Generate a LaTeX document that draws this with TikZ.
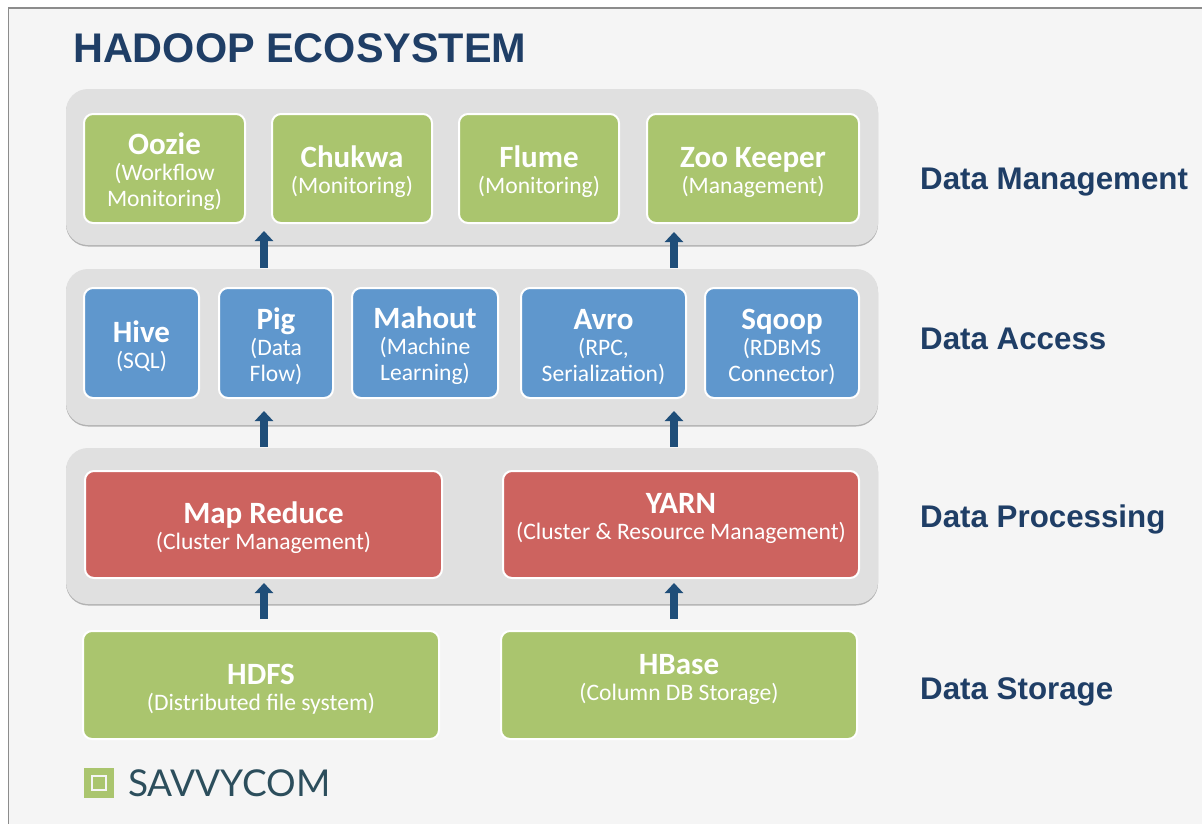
\documentclass[tikz,border=0pt]{standalone}
\usepackage{fontspec}
\setmainfont{Carlito}
\newfontfamily\labelfont{Liberation Sans}
\newfontfamily\logofont{Lato}
\usetikzlibrary{arrows.meta,shadows}
\definecolor{pagegray}{HTML}{F5F5F5}
\definecolor{panelgray}{HTML}{E0E0E0}
\definecolor{boxgreen}{HTML}{AAC56E}
\definecolor{boxblue}{HTML}{5F97CD}
\definecolor{boxred}{HTML}{CD635F}
\definecolor{titlenavy}{HTML}{1F3E66}
\definecolor{arrownavy}{HTML}{1F4E79}
\definecolor{logoteal}{HTML}{2C4E5C}
\newcommand{\boxhead}[1]{{\fontsize{31}{31}\selectfont\bfseries\rule{0pt}{28pt}#1}}
\newcommand{\boxlift}{\rule[-24pt]{0pt}{0pt}}
\tikzset{
	panel/.style={fill=panelgray, rounded corners=22pt, drop shadow={shadow xshift=0pt, shadow yshift=-1.5pt, fill=black!30, opacity=1}},
	tile/.style={draw=white, line width=2pt, rounded corners=9pt, text=white, align=center, inner sep=0pt, font=\fontsize{23.6}{26}\selectfont},
	greenbox/.style={tile, fill=boxgreen},
	bluebox/.style={tile, fill=boxblue},
	redbox/.style={tile, fill=boxred},
	layerlabel/.style={anchor=west, text=titlenavy, inner sep=0pt, font=\labelfont\fontsize{31.3}{31.3}\selectfont\bfseries},
	uparrow/.style={draw=arrownavy, line width=8pt, -{Triangle[width=18pt,length=10pt]}}
}
\begin{document}
\begin{tikzpicture}[x=1pt,y=-1pt]
			\useasboundingbox (0, 0) rectangle (1202, 823);
			
			%%%%% BACKGROUND %%%%%
			\fill[white] (0, 0) rectangle (1202, 823);
			\draw[fill=pagegray, draw=black!45, line width=1.5pt] (8.5, 8) rectangle (1230, 850);
			
			\node[anchor=west, inner sep=0pt, text=titlenavy, font=\labelfont\fontsize{41.4}{41.4}\selectfont\bfseries] (title) at (73, 48) {HADOOP ECOSYSTEM};
			
			%%%%% PANELS %%%%%
			\node[panel, minimum width=812pt, minimum height=156pt] (managepanel) at (472, 167) {};
			\node[panel, minimum width=812pt, minimum height=156pt] (accesspanel) at (472, 347) {};
			\node[panel, minimum width=812pt, minimum height=156pt] (processpanel) at (472, 526) {};
			
			%%%%% DATA MANAGEMENT %%%%%
			\node[greenbox, minimum width=161pt, minimum height=109pt] (oozie) at (164.5, 168.5) {\boxhead{Oozie}\\(Workflow\\Monitoring)};
			\node[greenbox, minimum width=160pt, minimum height=109pt] (chukwa) at (352, 168.5) {\boxhead{Chukwa}\\(Monitoring)};
			\node[greenbox, minimum width=160pt, minimum height=109pt] (flume) at (539, 168.5) {\boxhead{Flume}\\(Monitoring)};
			\node[greenbox, minimum width=212pt, minimum height=109pt] (zookeeper) at (753, 168.5) {\boxhead{Zoo Keeper}\\(Management)};
			
			%%%%% DATA ACCESS %%%%%
			\node[bluebox, minimum width=115pt, minimum height=110pt] (hive) at (141.5, 343) {\boxhead{Hive}\\(SQL)};
			\node[bluebox, minimum width=114pt, minimum height=110pt] (pig) at (276, 343) {\boxhead{Pig}\\(Data\\Flow)};
			\node[bluebox, minimum width=146pt, minimum height=110pt] (mahout) at (425, 343) {\boxhead{Mahout}\\(Machine\\Learning)};
			\node[bluebox, minimum width=165pt, minimum height=110pt] (avro) at (603.5, 343) {\boxhead{Avro}\\(RPC,\\Serialization)};
			\node[bluebox, minimum width=154pt, minimum height=110pt] (sqoop) at (782, 343) {\boxhead{Sqoop}\\(RDBMS\\Connector)};
			
			%%%%% DATA PROCESSING %%%%%
			\node[redbox, minimum width=357pt, minimum height=107pt] (mapreduce) at (263.5, 524.5) {\boxhead{Map Reduce}\\(Cluster Management)};
			\node[redbox, minimum width=356pt, minimum height=107pt] (yarn) at (681, 524.5) {\boxhead{YARN}\\(Cluster \& Resource Management)\boxlift};
			
			%%%%% DATA STORAGE %%%%%
			\node[greenbox, minimum width=356pt, minimum height=108pt] (hdfs) at (261, 685) {\boxhead{HDFS}\\(Distributed file system)};
			\node[greenbox, minimum width=356pt, minimum height=108pt] (hbase) at (679, 685) {\boxhead{HBase}\\(Column DB Storage)\boxlift};
			
			%%%%% ARROWS %%%%%
			\coordinate (managetipa) at (264, 231);
			\coordinate (managetipb) at (674, 232);
			\coordinate (accesstaila) at (264, 268);
			\coordinate (accesstailb) at (674, 268);
			\coordinate (accesstipa) at (264, 411);
			\coordinate (accesstipb) at (674, 411);
			\coordinate (processtaila) at (264, 447);
			\coordinate (processtailb) at (674, 447);
			\coordinate (processtipa) at (264, 583);
			\coordinate (processtipb) at (674, 583);
			\coordinate (storetaila) at (264, 619);
			\coordinate (storetailb) at (674, 619);
			\draw[uparrow] (accesstaila) -- (managetipa);
			\draw[uparrow] (accesstailb) -- (managetipb);
			\draw[uparrow] (processtaila) -- (accesstipa);
			\draw[uparrow] (processtailb) -- (accesstipb);
			\draw[uparrow] (storetaila) -- (processtipa);
			\draw[uparrow] (storetailb) -- (processtipb);
			
			%%%%% LAYER LABELS %%%%%
			\node[layerlabel] (managelabel) at (920, 182) {Data Management};
			\node[layerlabel] (accesslabel) at (920, 339) {Data Access};
			\node[layerlabel] (processlabel) at (920, 519) {Data Processing};
			\node[layerlabel] (storelabel) at (920, 692) {Data Storage};
			
			%%%%% LOGO %%%%%
			\node[fill=boxgreen, minimum size=30pt, inner sep=0pt] (logosquare) at (99, 783) {};
			\node[draw=pagegray, line width=2.2pt, fill=boxgreen, minimum size=14pt, inner sep=0pt] (logoinner) at (logosquare) {};
			\node[anchor=west, inner sep=0pt, text=logoteal, font=\logofont\fontsize{37}{37}\selectfont] (logotext) at (128, 783) {SAVVYCOM};
		\end{tikzpicture}
\end{document}
